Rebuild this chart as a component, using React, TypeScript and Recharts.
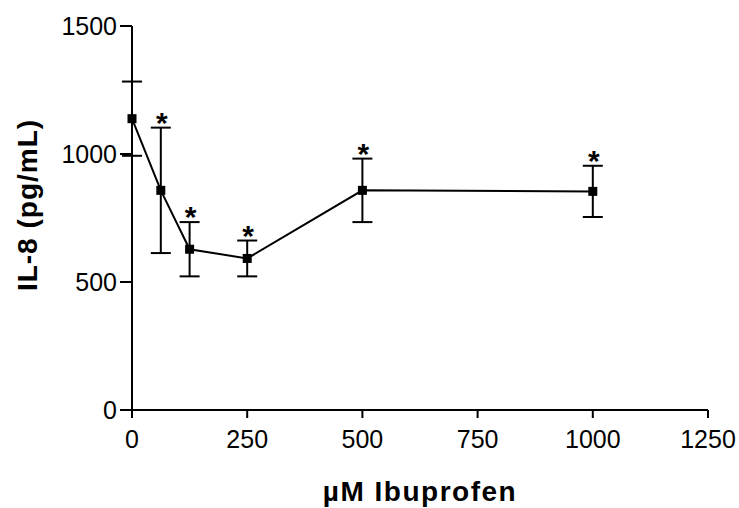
import { LineChart, Line, XAxis, YAxis, ErrorBar } from 'recharts';

// Ibuprofen dose (µM) vs IL-8 (pg/mL), mean ± error
const doses = [0, 62.5, 125, 250, 500, 1000];
const il8 = [1138, 858, 628, 592, 858, 854];
const errors = [145, 245, 106, 70, 124, 100];
const significant = [false, true, true, true, true, true];

const xTicks = [0, 250, 500, 750, 1000, 1250];
const yTicks = [0, 500, 1000, 1500];

const data = doses.map((d, i) => ({
  dose: d,
  il8: il8[i],
  err: errors[i],
  // asterisk sits just above the upper error cap
  star: significant[i] ? il8[i] + errors[i] : null,
}));

const FONT = '"Liberation Sans", Arial, sans-serif';

const SquareDot = (props: any) => {
  const { cx, cy, index } = props;
  if (cx == null || cy == null) return <g key={`sq-${index}`} />;
  return <rect key={`sq-${index}`} x={cx - 4.5} y={cy - 4.5} width={9} height={9} fill="#000" />;
};

const StarDot = (props: any) => {
  const { cx, cy, index, value } = props;
  if (cx == null || cy == null || value == null) return <g key={`st-${index}`} />;
  return (
    <text
      key={`st-${index}`}
      x={cx + 1}
      y={cy + 5}
      textAnchor="middle"
      fontFamily={FONT}
      fontWeight="bold"
      fontSize={30}
      fill="#000"
    >
      *
    </text>
  );
};

export default function App() {
  return (
    <div style={{ position: 'fixed', left: 0, top: 0, width: 739, height: 508, background: '#fff' }}>
      <LineChart width={739} height={508} data={data} margin={{ top: 26, right: 31, left: 32, bottom: 38 }}>
        <XAxis
          dataKey="dose"
          type="number"
          domain={[0, 1250]}
          ticks={xTicks}
          tickSize={8}
          tickMargin={12}
          height={60}
          stroke="#000"
          strokeWidth={2}
          tick={{ fill: '#000', fontSize: 25, fontFamily: FONT }}
          label={{
            content: () => (
              <text
                x={420}
                y={491}
                textAnchor="middle"
                dominantBaseline="central"
                fontFamily={FONT}
                fontWeight="bold"
                fontSize={28}
                letterSpacing={1.5}
                fill="#000"
              >
                µM Ibuprofen
              </text>
            ),
          }}
        />
        <YAxis
          type="number"
          domain={[0, 1500]}
          ticks={yTicks}
          width={100}
          tickSize={12}
          tickMargin={3}
          stroke="#000"
          strokeWidth={2}
          tick={{ fill: '#000', fontSize: 25, fontFamily: FONT }}
          label={{
            content: () => (
              <text
                x={27}
                y={205}
                transform="rotate(-90, 27, 205)"
                textAnchor="middle"
                dominantBaseline="central"
                fontFamily={FONT}
                fontWeight="bold"
                fontSize={28}
                letterSpacing={1}
                fill="#000"
              >
                IL-8 (pg/mL)
              </text>
            ),
          }}
        />
        <Line
          dataKey="il8"
          stroke="#000"
          strokeWidth={2}
          dot={SquareDot}
          activeDot={false}
          isAnimationActive={false}
        >
          <ErrorBar dataKey="err" direction="y" width={10} stroke="#000" strokeWidth={2} />
        </Line>
        <Line
          dataKey="star"
          stroke="none"
          dot={StarDot}
          activeDot={false}
          connectNulls={false}
          isAnimationActive={false}
        />
      </LineChart>
    </div>
  );
}
